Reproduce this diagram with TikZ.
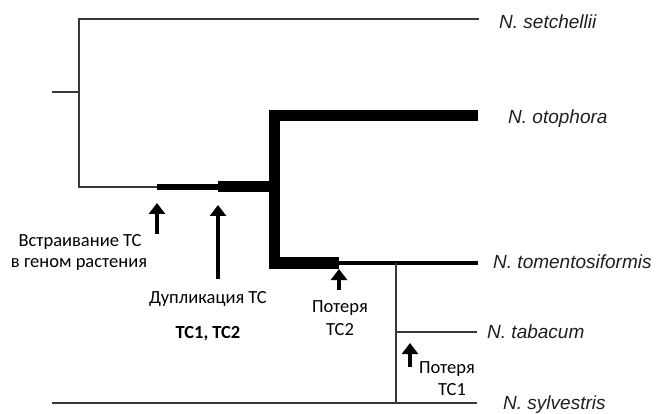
\documentclass[tikz,border=0pt]{standalone}
\usepackage{fontspec}
\setmainfont{Carlito}
\newfontfamily\spfont{Liberation Sans}
\usetikzlibrary{arrows.meta}
\begin{document}
\begin{tikzpicture}[x=1pt,y=-1pt,
  thinline/.style={line width=2pt, draw=black!78},
  medline/.style={line width=6pt, draw=black},
  tomline/.style={line width=3.5pt, draw=black},
  thickline/.style={line width=11pt, draw=black, line join=miter},
  arr/.style={line width=3.5pt, draw=black, -{Triangle[width=16pt,length=11pt]}},
  sp/.style={font=\spfont\itshape\fontsize{19}{22}\selectfont, text=black!88, anchor=base west, inner sep=0pt},
  lbl/.style={font=\fontsize{18.5}{22}\selectfont, anchor=base, inner sep=0pt},
  lblb/.style={lbl, font=\bfseries\fontsize{18.5}{22}\selectfont}]
\useasboundingbox (0,0) rectangle (656,414);
% tree coordinates
\coordinate (root) at (52,92);
\coordinate (n0) at (79,92);
\coordinate (n0top) at (79,19);
\coordinate (n0bot) at (79,187);
\coordinate (ins) at (157,187);
\coordinate (dup) at (218,187);
\coordinate (n1) at (274,187);
\coordinate (n1top) at (274,116);
\coordinate (n1bot) at (274,263);
\coordinate (loss2) at (339,263);
\coordinate (n2) at (396,263);
\coordinate (n2tab) at (396,332);
\coordinate (n2syl) at (396,403);
\coordinate (setE) at (479,19);
\coordinate (otoE) at (478,116);
\coordinate (tomE) at (478,263);
\coordinate (tabE) at (477,332);
\coordinate (sylW) at (52,403);
\coordinate (sylE) at (477,403);
% arrow coordinates
\coordinate (a1h) at (157,203); \coordinate (a1t) at (157,234);
\coordinate (a2h) at (218,205); \coordinate (a2t) at (218,279);
\coordinate (a3h) at (339,269); \coordinate (a3t) at (339,290);
\coordinate (a4h) at (410,343); \coordinate (a4t) at (410,367);
% branches
\draw[thinline] (root) -- (n0);
\draw[thinline] (setE) -- (n0top) -- (n0bot) -- (ins);
\draw[medline] (ins) -- (dup);
\draw[thickline] (dup) -- (n1);
\draw[thickline] (otoE) -- (n1top) -- (n1bot) -- (loss2);
\draw[tomline] (loss2) -- (tomE);
\draw[thinline] (n2) -- (n2syl);
\draw[thinline] (n2tab) -- (tabE);
\draw[thinline] (sylW) -- (sylE);
% species
\node[sp] (set) at (499,29) {N. setchellii};
\node[sp] (oto) at (508,124) {N. otophora};
\node[sp] (tom) at (493,269) {N. tomentosiformis};
\node[sp] (tab) at (487,338) {N. tabacum};
\node[sp] (syl) at (503,409) {N. sylvestris};
% arrows
\draw[arr] (a1t) -- (a1h);
\draw[arr] (a2t) -- (a2h);
\draw[arr] (a3t) -- (a3h);
\draw[arr] (a4t) -- (a4h);
% labels
\node[lbl] (ins1) at (80,247) {Встраивание ТС};
\node[lbl] (ins2) at (79,268) {в геном растения};
\node[lbl] (dupl) at (208,303) {Дупликация ТС};
\node[lblb] (tcs) at (208,338) {ТС1, ТС2};
\node[lbl] (l2a) at (340,312) {Потеря};
\node[lbl] (l2b) at (340,335) {ТС2};
\node[lbl] (l1a) at (447,373) {Потеря};
\node[lbl] (l1b) at (452,395) {ТС1};
\end{tikzpicture}
\end{document}
